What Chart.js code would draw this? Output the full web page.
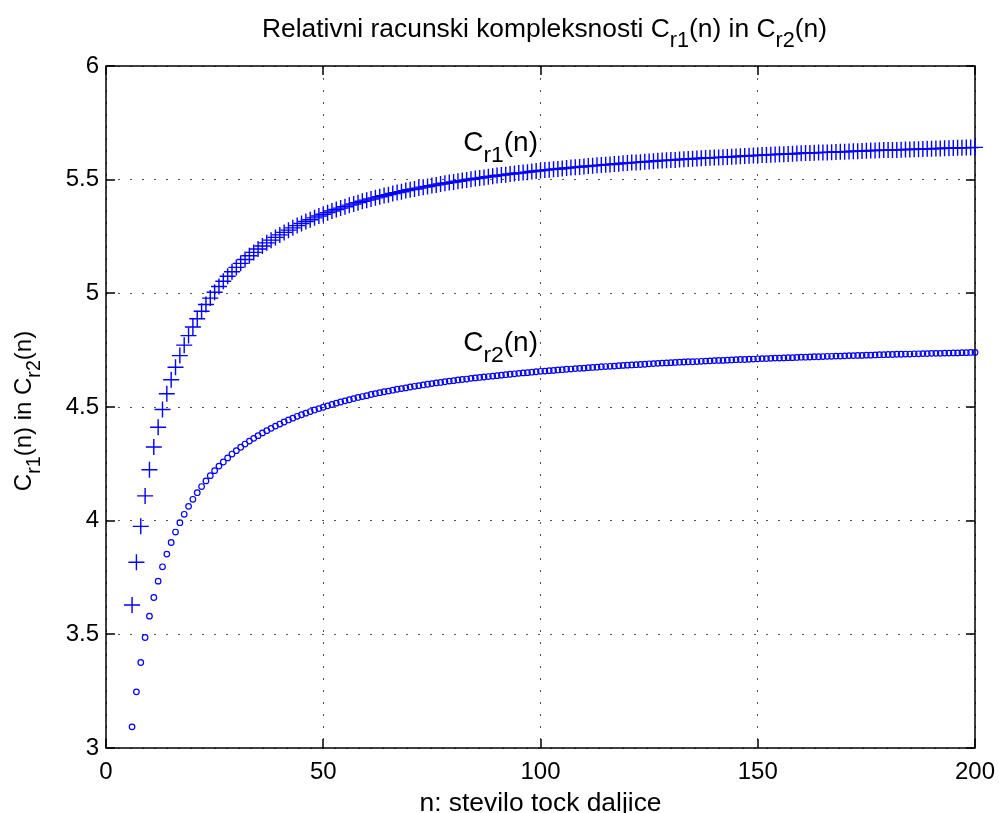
<!DOCTYPE html>
<html>
<head>
<meta charset="utf-8">
<script src="https://cdn.jsdelivr.net/npm/chart.js@4.4.0/dist/chart.umd.min.js"></script>
<style>
  html, body { margin: 0; padding: 0; background: #fff; }
  canvas { display: block; }
</style>
</head>
<body>
<canvas id="chart" width="999" height="813"></canvas>
<script>
// number of points n
const nPoints = [
  6, 7, 8, 9, 10, 11, 12, 13, 14, 15, 16, 17, 18, 19, 20, 21, 22, 23, 24, 25,
  26, 27, 28, 29, 30, 31, 32, 33, 34, 35, 36, 37, 38, 39, 40, 41, 42, 43, 44, 45,
  46, 47, 48, 49, 50, 51, 52, 53, 54, 55, 56, 57, 58, 59, 60, 61, 62, 63, 64, 65,
  66, 67, 68, 69, 70, 71, 72, 73, 74, 75, 76, 77, 78, 79, 80, 81, 82, 83, 84, 85,
  86, 87, 88, 89, 90, 91, 92, 93, 94, 95, 96, 97, 98, 99, 100, 101, 102, 103, 104, 105,
  106, 107, 108, 109, 110, 111, 112, 113, 114, 115, 116, 117, 118, 119, 120, 121, 122, 123, 124, 125,
  126, 127, 128, 129, 130, 131, 132, 133, 134, 135, 136, 137, 138, 139, 140, 141, 142, 143, 144, 145,
  146, 147, 148, 149, 150, 151, 152, 153, 154, 155, 156, 157, 158, 159, 160, 161, 162, 163, 164, 165,
  166, 167, 168, 169, 170, 171, 172, 173, 174, 175, 176, 177, 178, 179, 180, 181, 182, 183, 184, 185,
  186, 187, 188, 189, 190, 191, 192, 193, 194, 195, 196, 197, 198, 199, 200
];

// C_r1(n)
const cr1 = [
  3.629, 3.817, 3.975, 4.109, 4.224, 4.324, 4.411, 4.489, 4.558, 4.620,
  4.675, 4.726, 4.772, 4.814, 4.852, 4.888, 4.921, 4.951, 4.979, 5.005,
  5.030, 5.053, 5.075, 5.095, 5.114, 5.132, 5.149, 5.165, 5.180, 5.195,
  5.208, 5.222, 5.234, 5.246, 5.257, 5.268, 5.278, 5.288, 5.298, 5.307,
  5.316, 5.324, 5.332, 5.340, 5.348, 5.355, 5.362, 5.369, 5.375, 5.381,
  5.388, 5.393, 5.399, 5.405, 5.410, 5.415, 5.420, 5.425, 5.430, 5.434,
  5.439, 5.443, 5.447, 5.452, 5.456, 5.459, 5.463, 5.467, 5.470, 5.474,
  5.477, 5.481, 5.484, 5.487, 5.490, 5.493, 5.496, 5.499, 5.502, 5.505,
  5.507, 5.510, 5.513, 5.515, 5.518, 5.520, 5.522, 5.525, 5.527, 5.529,
  5.531, 5.533, 5.536, 5.538, 5.540, 5.542, 5.544, 5.546, 5.547, 5.549,
  5.551, 5.553, 5.555, 5.556, 5.558, 5.560, 5.561, 5.563, 5.564, 5.566,
  5.567, 5.569, 5.570, 5.572, 5.573, 5.575, 5.576, 5.577, 5.579, 5.580,
  5.581, 5.583, 5.584, 5.585, 5.586, 5.587, 5.589, 5.590, 5.591, 5.592,
  5.593, 5.594, 5.595, 5.596, 5.597, 5.598, 5.599, 5.600, 5.601, 5.602,
  5.603, 5.604, 5.605, 5.606, 5.607, 5.608, 5.609, 5.610, 5.611, 5.612,
  5.612, 5.613, 5.614, 5.615, 5.616, 5.617, 5.617, 5.618, 5.619, 5.620,
  5.620, 5.621, 5.622, 5.623, 5.623, 5.624, 5.625, 5.625, 5.626, 5.627,
  5.628, 5.628, 5.629, 5.630, 5.630, 5.631, 5.631, 5.632, 5.633, 5.633,
  5.634, 5.634, 5.635, 5.636, 5.636, 5.637, 5.637, 5.638, 5.638, 5.639,
  5.640, 5.640, 5.641, 5.641, 5.642
];

// C_r2(n)
const cr2 = [
  3.093, 3.247, 3.376, 3.486, 3.580, 3.662, 3.734, 3.797, 3.853, 3.904,
  3.950, 3.991, 4.028, 4.063, 4.094, 4.123, 4.150, 4.175, 4.198, 4.220,
  4.240, 4.258, 4.276, 4.293, 4.308, 4.323, 4.337, 4.350, 4.362, 4.374,
  4.386, 4.396, 4.406, 4.416, 4.425, 4.434, 4.443, 4.451, 4.459, 4.466,
  4.473, 4.480, 4.487, 4.493, 4.499, 4.505, 4.511, 4.517, 4.522, 4.527,
  4.532, 4.537, 4.542, 4.546, 4.550, 4.555, 4.559, 4.563, 4.567, 4.570,
  4.574, 4.578, 4.581, 4.584, 4.588, 4.591, 4.594, 4.597, 4.600, 4.603,
  4.606, 4.608, 4.611, 4.614, 4.616, 4.619, 4.621, 4.623, 4.626, 4.628,
  4.630, 4.632, 4.634, 4.636, 4.638, 4.640, 4.642, 4.644, 4.646, 4.648,
  4.650, 4.651, 4.653, 4.655, 4.657, 4.658, 4.660, 4.661, 4.663, 4.664,
  4.666, 4.667, 4.669, 4.670, 4.671, 4.673, 4.674, 4.675, 4.677, 4.678,
  4.679, 4.680, 4.682, 4.683, 4.684, 4.685, 4.686, 4.687, 4.688, 4.690,
  4.691, 4.692, 4.693, 4.694, 4.695, 4.696, 4.697, 4.698, 4.699, 4.699,
  4.700, 4.701, 4.702, 4.703, 4.704, 4.705, 4.705, 4.706, 4.707, 4.708,
  4.709, 4.709, 4.710, 4.711, 4.712, 4.713, 4.713, 4.714, 4.715, 4.715,
  4.716, 4.717, 4.717, 4.718, 4.719, 4.719, 4.720, 4.721, 4.721, 4.722,
  4.723, 4.723, 4.724, 4.724, 4.725, 4.726, 4.726, 4.727, 4.727, 4.728,
  4.728, 4.729, 4.730, 4.730, 4.731, 4.731, 4.732, 4.732, 4.733, 4.733,
  4.734, 4.734, 4.735, 4.735, 4.736, 4.736, 4.736, 4.737, 4.737, 4.738,
  4.738, 4.739, 4.739, 4.740, 4.740
];

const xTicks = [0, 50, 100, 150, 200];
const yTicks = [3, 3.5, 4, 4.5, 5, 5.5, 6];

// where the curve names sit, in data units (left end of text, baseline)
const curveLabels = [
  { parts: [['C'], ['r1', true], ['(n)']], x: 82.2, y: 5.624 },
  { parts: [['C'], ['r2', true], ['(n)']], x: 82.2, y: 4.745 }
];

const FONT = '"Liberation Sans", Arial, Helvetica, sans-serif';
const BLUE = '#0000ff';

// text with subscripts: parts = [[text, isSub], ...]
function richWidth(ctx, parts, size) {
  let w = 0;
  parts.forEach(([t, sub]) => {
    ctx.font = (sub ? size * 0.82 : size) + 'px ' + FONT;
    w += ctx.measureText(t).width;
  });
  return w;
}

function drawRich(ctx, parts, x, y, size, align) {
  const w = richWidth(ctx, parts, size);
  let cx = align === 'center' ? x - w / 2 : x;
  ctx.fillStyle = '#000';
  ctx.textBaseline = 'alphabetic';
  ctx.textAlign = 'left';
  parts.forEach(([t, sub]) => {
    ctx.font = (sub ? size * 0.82 : size) + 'px ' + FONT;
    ctx.fillText(t, cx, sub ? y + size * 0.37 : y);
    cx += ctx.measureText(t).width;
  });
}

const matlabAxes = {
  id: 'matlabAxes',
  beforeDatasetsDraw(chart) {
    const { ctx, chartArea: a, scales: { x, y } } = chart;
    ctx.save();
    ctx.strokeStyle = '#000';
    ctx.lineWidth = 1.5;
    ctx.strokeRect(a.left, a.top, a.right - a.left, a.bottom - a.top);
    // tick marks point inward on all four sides
    ctx.beginPath();
    xTicks.forEach(v => {
      const px = Math.round(x.getPixelForValue(v));
      ctx.moveTo(px, a.bottom); ctx.lineTo(px, a.bottom - 9);
      ctx.moveTo(px, a.top); ctx.lineTo(px, a.top + 9);
    });
    yTicks.forEach(v => {
      const py = Math.round(y.getPixelForValue(v));
      ctx.moveTo(a.left, py); ctx.lineTo(a.left + 9, py);
      ctx.moveTo(a.right, py); ctx.lineTo(a.right - 9, py);
    });
    ctx.stroke();
    ctx.restore();
  },
  afterDraw(chart) {
    const { ctx, chartArea: a, scales: { x, y } } = chart;
    ctx.save();
    const cx = (a.left + a.right) / 2;
    drawRich(ctx, [['Relativni racunski kompleksnosti C'], ['r1', true], ['(n) in C'], ['r2', true], ['(n)']],
      cx + 4, 37, 26.4, 'center');
    curveLabels.forEach(l => {
      drawRich(ctx, l.parts, x.getPixelForValue(l.x), y.getPixelForValue(l.y), 28, 'left');
    });
    // x axis title
    ctx.font = '26.4px ' + FONT;
    ctx.fillStyle = '#000';
    ctx.textAlign = 'center';
    ctx.textBaseline = 'alphabetic';
    ctx.fillText('n: stevilo tock daljice', cx, 811);
    // y axis title, rotated
    ctx.translate(31, (a.top + a.bottom) / 2 + 4);
    ctx.rotate(-Math.PI / 2);
    drawRich(ctx, [['C'], ['r1', true], ['(n) in C'], ['r2', true], ['(n)']], 0, 0, 24, 'center');
    ctx.restore();
  }
};

new Chart(document.getElementById('chart'), {
  type: 'scatter',
  data: {
    datasets: [
      {
        label: 'Cr1',
        data: nPoints.map((n, i) => ({ x: n, y: cr1[i] })),
        pointStyle: 'cross',
        pointRadius: 8,
        borderColor: BLUE,
        backgroundColor: BLUE,
        pointBorderWidth: 1.4,
        showLine: false,
        clip: false
      },
      {
        label: 'Cr2',
        data: nPoints.map((n, i) => ({ x: n, y: cr2[i] })),
        pointStyle: 'circle',
        pointRadius: 2.8,
        borderColor: BLUE,
        backgroundColor: 'rgba(0,0,0,0)',
        pointBorderWidth: 1.2,
        showLine: false,
        clip: false
      }
    ]
  },
  options: {
    responsive: false,
    animation: false,
    events: [],
    layout: { padding: { left: 0, right: 24, top: 66, bottom: 0 } },
    plugins: { legend: { display: false }, tooltip: { enabled: false }, title: { display: false } },
    scales: {
      x: {
        type: 'linear',
        min: 0,
        max: 200,
        afterBuildTicks: s => { s.ticks = xTicks.map(v => ({ value: v })); },
        afterFit: s => { s.height = 65; s.paddingLeft = 0; s.paddingRight = 0; },
        ticks: { color: '#000', font: { family: FONT, size: 24 }, padding: 10, maxRotation: 0 },
        grid: { color: '#555', lineWidth: 1, drawTicks: false },
        border: { display: false, dash: [2, 10] }
      },
      y: {
        type: 'linear',
        min: 3,
        max: 6,
        afterBuildTicks: s => { s.ticks = yTicks.map(v => ({ value: v })); },
        afterFit: s => { s.width = 106; s.paddingTop = 0; s.paddingBottom = 0; },
        ticks: { color: '#000', font: { family: FONT, size: 24 }, padding: 7, callback: v => String(v) },
        grid: { color: '#555', lineWidth: 1, drawTicks: false },
        border: { display: false, dash: [2, 10] }
      }
    }
  },
  plugins: [matlabAxes]
});
</script>
</body>
</html>
